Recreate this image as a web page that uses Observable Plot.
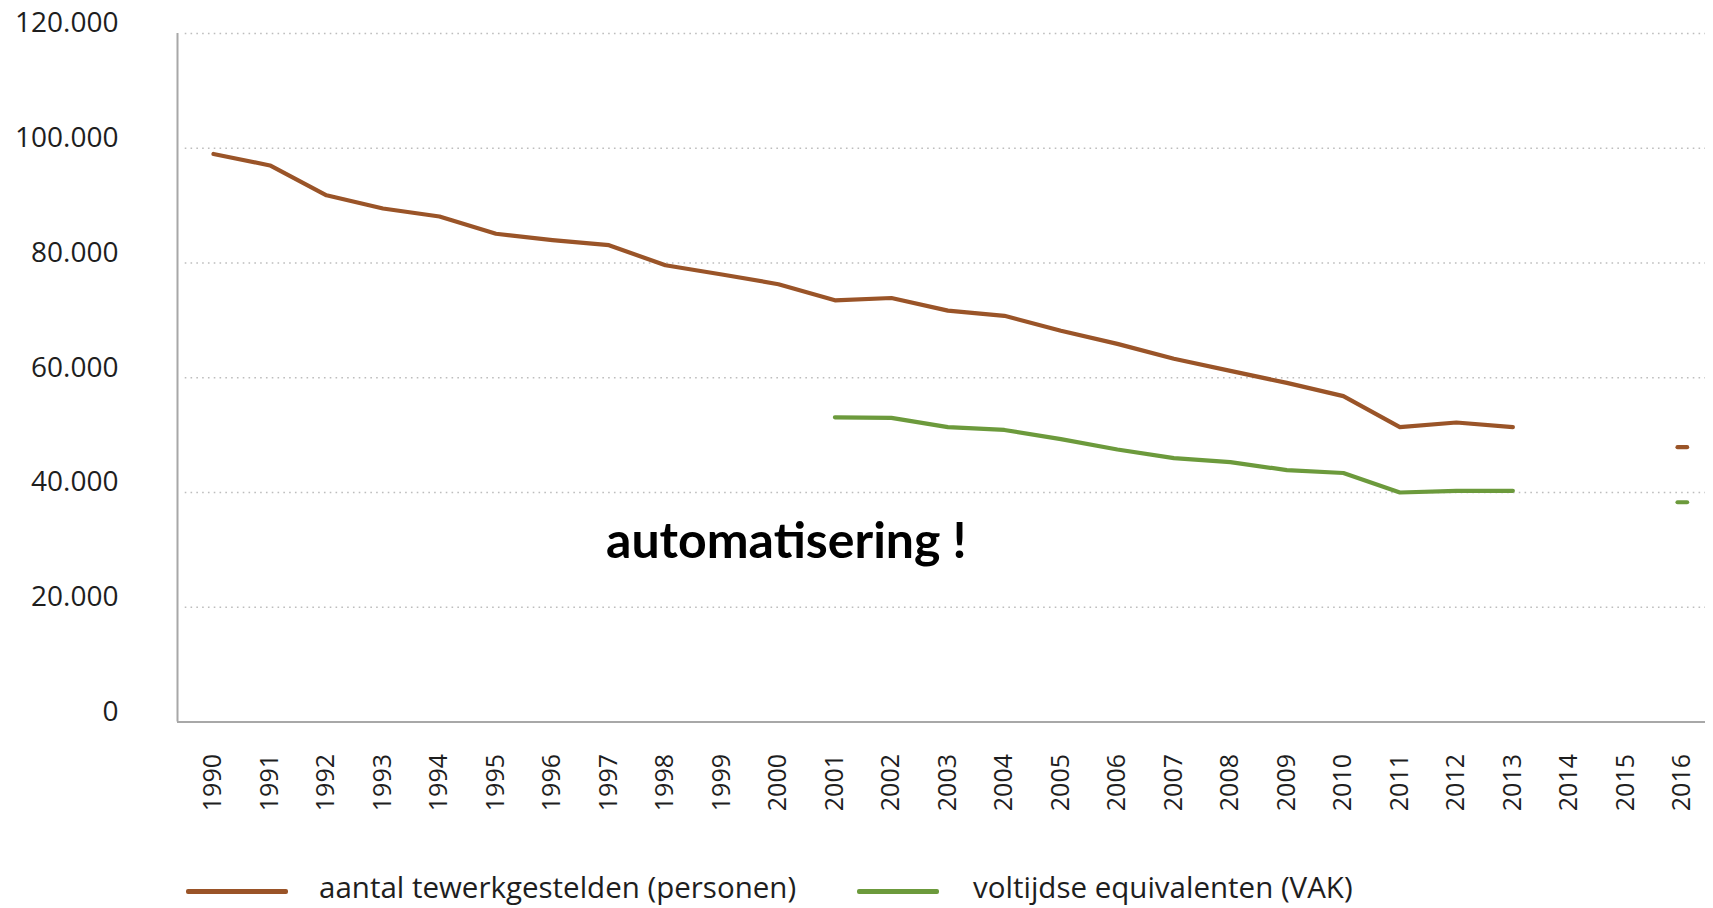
<!DOCTYPE html>
<html>
<head>
<meta charset="utf-8">
<script src="https://cdn.jsdelivr.net/npm/d3@7"></script>
<script src="https://cdn.jsdelivr.net/npm/@observablehq/plot@0.6"></script>
<style>
  html, body { margin: 0; padding: 0; background: #fff; }
  body { width: 1713px; height: 908px; overflow: hidden; font-family: "Open Sans", sans-serif; }
  #chart svg { display: block; }
  #legend { position: relative; width: 1713px; height: 48px; }
  .sw { position: absolute; height: 5px; border-radius: 2px; }
  .lt { position: absolute; font-size: 29.5px; line-height: 30px; color: #1e1e1e; white-space: nowrap; }
</style>
</head>
<body>
<div id="chart"></div>
<div id="legend"></div>
<script>
// ---- data ----
const years = [1990,1991,1992,1993,1994,1995,1996,1997,1998,1999,2000,2001,2002,2003,2004,2005,2006,2007,2008,2009,2010,2011,2012,2013];
const personen = [99000,97000,91800,89500,88100,85100,84000,83100,79600,78000,76300,73500,73900,71700,70800,68200,65900,63300,61200,59100,56800,51400,52200,51400];
const vakYears = [2001,2002,2003,2004,2005,2006,2007,2008,2009,2010,2011,2012,2013];
const vak = [53100,53000,51400,50900,49300,47500,46000,45300,43900,43400,40000,40300,40300];
const loneYear = [2016];
const lonePersonen = [47900];
const loneVak = [38300];
const tickYears = [1990,1991,1992,1993,1994,1995,1996,1997,1998,1999,2000,2001,2002,2003,2004,2005,2006,2007,2008,2009,2010,2011,2012,2013,2014,2015,2016];
const yTicks = [0,20000,40000,60000,80000,100000,120000];
const seriesNames = ["aantal tewerkgestelden (personen)", "voltijdse equivalenten (VAK)"];
const seriesColors = ["#9a5428", "#6c9a3c"];
const annotation = [{year: 2000.14, value: 31300, label: "automatisering !"}];

// ---- tables ----
const pData = years.map((y, i) => ({year: y, value: personen[i]}));
const vData = vakYears.map((y, i) => ({year: y, value: vak[i]}));
const loneP = loneYear.map((y, i) => ({year: y, value: lonePersonen[i]}));
const loneV = loneYear.map((y, i) => ({year: y, value: loneVak[i]}));

const fmt = d3.formatLocale({decimal: ",", thousands: ".", grouping: [3], currency: ["€", ""]}).format(",d");
const xDomain = [1989.363, 2016.41];

const chart = Plot.plot({
  width: 1713,
  height: 860,
  marginTop: 33,
  marginBottom: 138.5,
  marginLeft: 177,
  marginRight: 8,
  style: {fontFamily: "Open Sans", background: "white", color: "#1e1e1e", overflow: "visible"},
  x: {type: "linear", domain: xDomain},
  y: {domain: [0, 120000]},
  marks: [
    Plot.ruleY(yTicks.filter(v => v > 0), {x1: 1989.5, x2: xDomain[1], stroke: "#bdbdbd", strokeWidth: 1.6, strokeDasharray: "1.6,4.2"}),
    Plot.ruleX([xDomain[0]], {y1: 0, y2: 120000, stroke: "#a8a8a8", strokeWidth: 2}),
    Plot.ruleY([0], {stroke: "#a8a8a8", strokeWidth: 2}),
    Plot.line(pData, {x: "year", y: "value", stroke: seriesColors[0], strokeWidth: 4.2, strokeLinejoin: "round", strokeLinecap: "round"}),
    Plot.line(vData, {x: "year", y: "value", stroke: seriesColors[1], strokeWidth: 4.2, strokeLinejoin: "round", strokeLinecap: "round"}),
    Plot.link(loneP, {x1: d => d.year - 0.085, x2: d => d.year + 0.085, y1: "value", y2: "value", stroke: seriesColors[0], strokeWidth: 4.2, strokeLinecap: "round"}),
    Plot.link(loneV, {x1: d => d.year - 0.085, x2: d => d.year + 0.085, y1: "value", y2: "value", stroke: seriesColors[1], strokeWidth: 4.2, strokeLinecap: "round"}),
    Plot.text(annotation, {x: "year", y: "value", text: "label", fontSize: 50, fontWeight: "bold", fontFamily: "Lato", fill: "#000"}),
    Plot.axisY({ticks: yTicks, tickFormat: fmt, tickSize: 0, tickPadding: 59, fontSize: 28, dy: -10, label: null}),
    Plot.axisX({ticks: tickYears, tickFormat: d => String(d), tickRotate: -90, tickSize: 0, tickPadding: 32, fontSize: 25, label: null})
  ]
});
document.getElementById("chart").appendChild(chart);

// ---- legend ----
const legend = document.getElementById("legend");
const swLeft = [186, 857];
const swWidth = [102, 82];
const txLeft = [319, 973];
seriesNames.forEach((name, i) => {
  const sw = document.createElement("div");
  sw.className = "sw";
  sw.style.left = swLeft[i] + "px";
  sw.style.width = swWidth[i] + "px";
  sw.style.top = "29px";
  sw.style.background = seriesColors[i];
  legend.appendChild(sw);
  const tx = document.createElement("div");
  tx.className = "lt";
  tx.style.left = txLeft[i] + "px";
  tx.style.top = "12px";
  tx.textContent = name;
  legend.appendChild(tx);
});
</script>
</body>
</html>
